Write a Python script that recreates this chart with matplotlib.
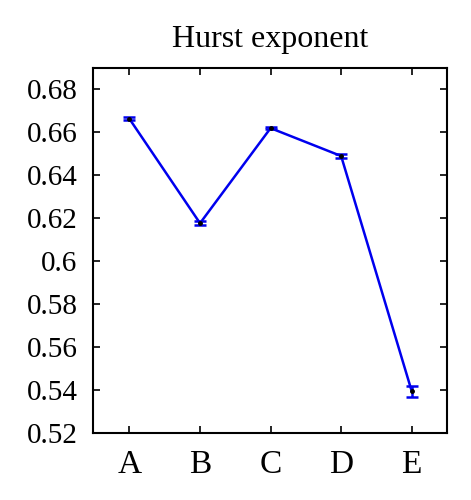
import matplotlib.pyplot as plt
import numpy as np

# data
groups = ['A', 'B', 'C', 'D', 'E']
hurst = [0.6663, 0.6177, 0.6620, 0.6490, 0.5395]
err = [0.0007, 0.0010, 0.0005, 0.0008, 0.0025]
yticks = [0.52, 0.54, 0.56, 0.58, 0.6, 0.62, 0.64, 0.66, 0.68]

plt.rcParams['font.family'] = ['Liberation Serif', 'DejaVu Serif']

fig = plt.figure(figsize=(4.71, 5.0), dpi=100)
ax = fig.add_axes([0.197, 0.134, 0.752, 0.730])

x = np.arange(1, len(groups) + 1)
ax.errorbar(x, hurst, yerr=err, color='#0000ee', lw=1.8, capsize=4,
            elinewidth=1.8, capthick=1.8, zorder=2)
ax.plot(x, hurst, 'o', color='black', ms=2.5, zorder=3)

ax.set_xlim(0.48, 5.5)
ax.set_ylim(0.52, 0.69)
ax.set_xticks(x)
ax.set_xticklabels(groups)
ax.set_yticks(yticks)
ax.set_yticklabels(['0.52', '0.54', '0.56', '0.58', '0.6', '0.62', '0.64', '0.66', '0.68'])
ax.tick_params(direction='in', top=True, right=True, length=5, width=1.2)
ax.tick_params(axis='y', labelsize=21, pad=11)
ax.tick_params(axis='x', labelsize=24, pad=12)
for s in ax.spines.values():
    s.set_linewidth(1.5)

ax.set_title('Hurst exponent', fontsize=23, pad=15)

fig.savefig('out.png', dpi=100)
